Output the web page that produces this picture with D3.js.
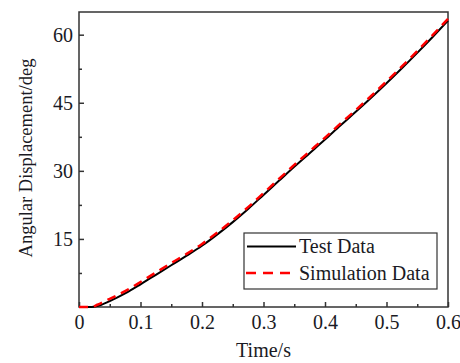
<!DOCTYPE html>
<html>
<head>
<meta charset="utf-8">
<script src="https://cdn.jsdelivr.net/npm/d3@7"></script>
<style>
html,body{margin:0;padding:0;background:#fff;}
svg{display:block;}
text{font-family:"Liberation Serif","Times New Roman",serif;fill:#1a1a24;}
</style>
</head>
<body>
<svg id="chart" width="460" height="363"></svg>
<script>
const testTime = [0,0.02,0.03,0.05,0.075,0.1,0.125,0.15,0.175,0.2,0.225,0.25,0.275,0.3,0.325,0.35,0.375,0.4,0.425,0.45,0.475,0.5,0.525,0.55,0.575,0.6];
const testValues = [0,0,0.2,1.3,3.0,5.0,7.1,9.2,11.3,13.5,16.0,18.7,21.6,24.7,27.8,30.9,33.9,36.9,40.0,43.0,46.1,49.3,52.6,56.0,59.5,63.1];
const simTime = [0,0.02,0.03,0.05,0.075,0.1,0.125,0.15,0.175,0.2,0.225,0.25,0.275,0.3,0.325,0.35,0.375,0.4,0.425,0.45,0.475,0.5,0.525,0.55,0.575,0.6];
const simValues = [0,0,0.5,1.8,3.5,5.5,7.6,9.7,11.7,13.9,16.4,19.1,22.0,25.1,28.2,31.3,34.3,37.3,40.4,43.4,46.5,49.7,53.0,56.4,59.9,63.5];
const xTicks = [0,0.1,0.2,0.3,0.4,0.5,0.6];
const xTickLabels = ["0","0.1","0.2","0.3","0.4","0.5","0.6"];
const xMinor = [0.05,0.15,0.25,0.35,0.45,0.55];
const yTicks = [15,30,45,60];
const yTickLabels = ["15","30","45","60"];
const yMinor = [7.5,22.5,37.5,52.5];
const seriesNames = ["Test Data","Simulation Data"];

const svg = d3.select("#chart");
const L = 79, R = 448, T = 12, B = 307;
const x = d3.scaleLinear().domain([0,0.6]).range([L,R]);
const y = d3.scaleLinear().domain([0,65]).range([B,T]);

const axisColor = "#333";

// frame
svg.append("rect").attr("x",L).attr("y",T).attr("width",R-L).attr("height",B-T)
  .attr("fill","none").attr("stroke",axisColor).attr("stroke-width",1.5);

// x axis
const gx = svg.append("g").attr("transform",`translate(0,${B})`)
  .call(d3.axisBottom(x).tickValues(xTicks).tickFormat((d,i)=>xTickLabels[i]).tickSizeInner(-5).tickSizeOuter(0).tickPadding(8));
gx.select(".domain").remove();
gx.selectAll("line").attr("stroke",axisColor).attr("stroke-width",1.5);
gx.selectAll("text").style("font-size","20px").style("font-family","Liberation Serif").attr("fill","#1a1a24");
const gxm = svg.append("g").attr("transform",`translate(0,${B})`)
  .call(d3.axisBottom(x).tickValues(xMinor).tickFormat("").tickSizeInner(-3).tickSizeOuter(0));
gxm.select(".domain").remove();
gxm.selectAll("line").attr("stroke",axisColor).attr("stroke-width",1.5);

// y axis
const gy = svg.append("g").attr("transform",`translate(${L},0)`)
  .call(d3.axisLeft(y).tickValues(yTicks).tickFormat((d,i)=>yTickLabels[i]).tickSizeInner(-5).tickSizeOuter(0).tickPadding(6));
gy.select(".domain").remove();
gy.selectAll("line").attr("stroke",axisColor).attr("stroke-width",1.5);
gy.selectAll("text").style("font-size","20px").style("font-family","Liberation Serif").attr("fill","#1a1a24");
const gym = svg.append("g").attr("transform",`translate(${L},0)`)
  .call(d3.axisLeft(y).tickValues(yMinor).tickFormat("").tickSizeInner(-3).tickSizeOuter(0));
gym.select(".domain").remove();
gym.selectAll("line").attr("stroke",axisColor).attr("stroke-width",1.5);

// axis titles
svg.append("text").attr("x",(L+R)/2).attr("y",357).attr("text-anchor","middle")
  .style("font-size","20px").text("Time/s");
svg.append("text").attr("transform",`translate(32,158) rotate(-90)`).attr("text-anchor","middle")
  .style("font-size","18.5px").text("Angular Displacement/deg");

// lines
const line = d3.line().x(d=>x(d[0])).y(d=>y(d[1])).curve(d3.curveMonotoneX);
svg.append("path").datum(testTime.map((t,i)=>[t,testValues[i]]))
  .attr("d",line).attr("fill","none").attr("stroke","#000").attr("stroke-width",2);
svg.append("path").datum(simTime.map((t,i)=>[t,simValues[i]]))
  .attr("d",line).attr("fill","none").attr("stroke","#f00").attr("stroke-width",2.5)
  .attr("stroke-dasharray","9,6");

// legend
const lg = svg.append("g");
lg.append("rect").attr("x",244).attr("y",233).attr("width",193).attr("height",56)
  .attr("fill","#fff").attr("stroke",axisColor).attr("stroke-width",1.2);
lg.append("line").attr("x1",247).attr("x2",296).attr("y1",246.5).attr("y2",246.5)
  .attr("stroke","#000").attr("stroke-width",2.2);
lg.append("line").attr("x1",246).attr("x2",297).attr("y1",273).attr("y2",273)
  .attr("stroke","#f00").attr("stroke-width",2.5).attr("stroke-dasharray","10,7");
lg.append("text").attr("x",299).attr("y",253).style("font-size","20px").text(seriesNames[0]);
lg.append("text").attr("x",299).attr("y",280).style("font-size","20px").text(seriesNames[1]);
</script>
</body>
</html>
